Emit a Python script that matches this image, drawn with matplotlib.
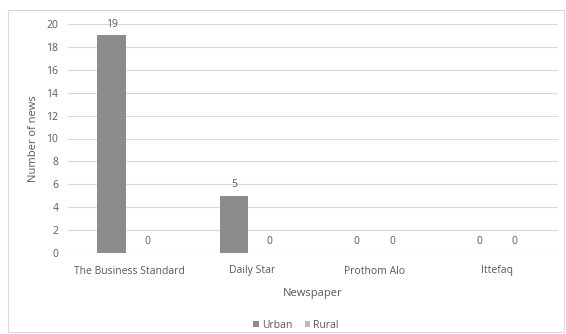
import matplotlib
matplotlib.use("Agg")
import matplotlib.pyplot as plt
from matplotlib.patches import Rectangle
import numpy as np

newspapers = ["The Business Standard", "Daily Star", "Prothom Alo", "Ittefaq"]
urban = [19, 5, 0, 0]
rural = [0, 0, 0, 0]
y_ticks = [0, 2, 4, 6, 8, 10, 12, 14, 16, 18, 20]

text_color = "#595959"
urban_color = "#8c8c8c"
rural_color = "#bdbdbd"
grid_color = "#d9d9d9"

plt.rcParams["font.family"] = ["Open Sans", "DejaVu Sans"]
plt.rcParams["font.size"] = 7.5

fig = plt.figure(figsize=(5.66, 3.34), dpi=100)
fig.patch.set_facecolor("white")
fig.patches.append(Rectangle((8 / 566, 2 / 334), 556 / 566, 322 / 334,
                             transform=fig.transFigure, fill=False,
                             edgecolor="#d9d9d9", linewidth=0.8))

ax = fig.add_axes([68 / 566, 1 - 253 / 334, 490 / 566, 229 / 334])
x = np.arange(len(newspapers))
w = 0.23
off = 0.145
b1 = ax.bar(x - off, urban, w, color=urban_color, label="Urban", zorder=3)
b2 = ax.bar(x + off, rural, w, color=rural_color, label="Rural", zorder=3)

# value labels above each bar
for bars, vals in ((b1, urban), (b2, rural)):
    for bar, v in zip(bars, vals):
        ax.annotate(str(v), (bar.get_x() + bar.get_width() / 2, v),
                    xytext=(0, 4), textcoords="offset points",
                    ha="center", va="bottom", color=text_color, fontsize=7.5)

ax.set_xlim(-0.5, len(newspapers) - 0.5)
ax.set_ylim(0, 20)
ax.set_yticks(y_ticks)
ax.set_xticks(x)
ax.set_xticklabels(newspapers)
ax.tick_params(axis="both", length=0, colors=text_color, labelsize=7.5)
ax.tick_params(axis="y", pad=7)
ax.tick_params(axis="x", pad=9)
ax.yaxis.grid(True, color=grid_color, linewidth=0.8, zorder=0)
for s in ax.spines.values():
    s.set_visible(False)

ax.set_xlabel("Newspaper", color=text_color, fontsize=8, labelpad=8)
ax.set_ylabel("Number of news", color=text_color, fontsize=8, labelpad=5)

ax.legend(loc="upper center", bbox_to_anchor=(0.465, -0.25), ncol=2,
          frameon=False, handlelength=0.5, handleheight=0.5,
          handletextpad=0.3, columnspacing=1.2, labelcolor=text_color,
          fontsize=7.5)

fig.savefig("out.png", dpi=100)
